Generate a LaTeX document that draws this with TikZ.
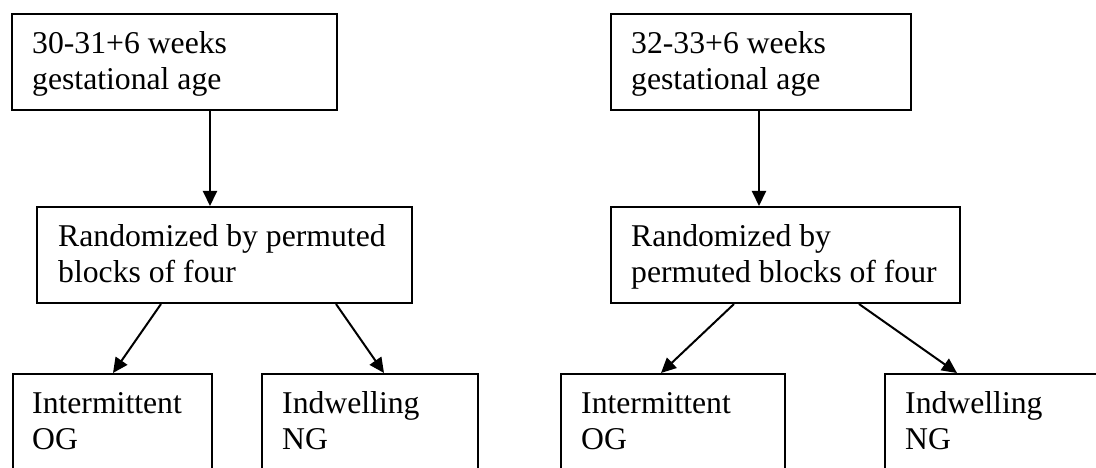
\documentclass[tikz,border=0pt]{standalone}
\usepackage{fontspec}
\setmainfont{Liberation Serif}
\usetikzlibrary{arrows.meta,calc}
\begin{document}
\begin{tikzpicture}[x=1pt,y=-1pt,
  box/.style={draw, line width=2pt, rectangle, inner sep=0pt, anchor=north west},
  txt/.style={anchor=base west, inner sep=0pt, align=left, font=\fontsize{31.7}{36}\selectfont},
  arr/.style={line width=2pt, -{Triangle[length=15pt,width=14pt]}}]
\clip (0,0) rectangle (1096,468);
\fill[white] (0,0) rectangle (1096,468);
% boxes
\node[box, minimum width=325pt, minimum height=96pt] (b1) at (11,13) {};
\node[box, minimum width=300pt, minimum height=96pt] (b2) at (610,13) {};
\node[box, minimum width=375pt, minimum height=96pt] (b3) at (36,206) {};
\node[box, minimum width=349pt, minimum height=96pt] (b4) at (610,206) {};
\node[box, minimum width=199pt, minimum height=130pt] (b5) at (12,373) {};
\node[box, minimum width=216pt, minimum height=130pt] (b6) at (261,373) {};
\node[box, minimum width=224pt, minimum height=130pt] (b7) at (560,373) {};
\node[box, minimum width=236pt, minimum height=130pt] (b8) at (884,373) {};
% texts (anchored at the baseline of their last line)
\node[txt] (t1) at (32,90) {30-31+6 weeks\\gestational age};
\node[txt] (t2) at (631,90) {32-33+6 weeks\\gestational age};
\node[txt] (t3) at (58,282) {Randomized by permuted\\blocks of four};
\node[txt] (t4) at (631,282) {Randomized by\\permuted blocks of four};
\node[txt] (t5) at (32,449) {Intermittent\\OG};
\node[txt] (t6) at (282,449) {Indwelling\\NG};
\node[txt] (t7) at (581,449) {Intermittent\\OG};
\node[txt] (t8) at (905,449) {Indwelling\\NG};
% arrows
\draw[arr] ($(b1.south west)+(199,0)$) -- ($(b3.north west)+(174,0)$);
\draw[arr] ($(b2.south west)+(149,0)$) -- ($(b4.north west)+(149,0)$);
\draw[arr] ($(b3.south west)+(125,0)$) -- ($(b5.north west)+(101,0)$);
\draw[arr] ($(b3.south west)+(300,0)$) -- ($(b6.north west)+(123,0)$);
\draw[arr] ($(b4.south west)+(124,0)$) -- ($(b7.north west)+(101,0)$);
\draw[arr] ($(b4.south west)+(249,0)$) -- ($(b8.north west)+(73,0)$);
\end{tikzpicture}
\end{document}
